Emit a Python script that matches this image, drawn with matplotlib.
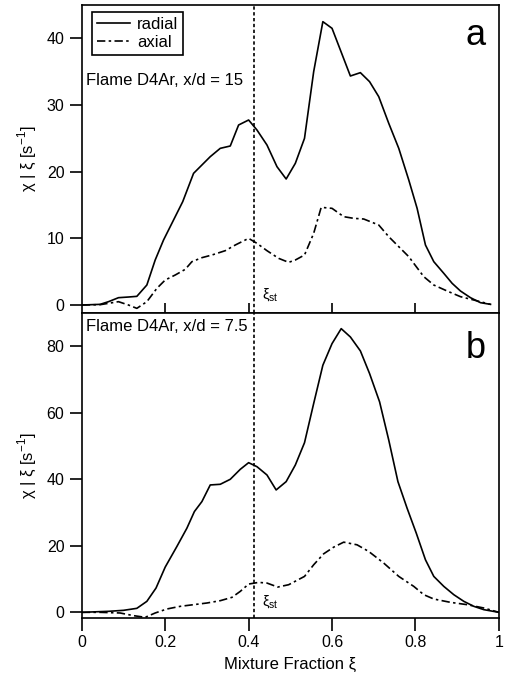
import matplotlib.pyplot as plt

plt.rcParams['font.family'] = ['Liberation Sans', 'DejaVu Sans']
plt.rcParams['mathtext.fontset'] = 'custom'
plt.rcParams['mathtext.rm'] = 'Liberation Sans'

# panel a: x/d = 15
xa_rad = [0, 0.044, 0.064, 0.088, 0.112, 0.132, 0.156, 0.176, 0.196, 0.22, 0.242,
          0.268, 0.284, 0.308, 0.332, 0.356, 0.376, 0.40, 0.42, 0.444, 0.468, 0.49,
          0.512, 0.534, 0.556, 0.578, 0.60, 0.62, 0.644, 0.668, 0.69, 0.712, 0.736,
          0.76, 0.784, 0.804, 0.824, 0.844, 0.868, 0.888, 0.908, 0.932, 0.956, 0.98]
ya_rad = [0, 0.1, 0.5, 1.1, 1.2, 1.3, 3.0, 6.75, 9.75, 12.75, 15.5,
          19.75, 20.75, 22.25, 23.5, 23.85, 27.0, 27.75, 26.25, 24.0, 20.75, 18.9,
          21.25, 25.0, 35.0, 42.5, 41.5, 38.25, 34.35, 34.85, 33.5, 31.25, 27.25,
          23.5, 18.75, 14.5, 9.0, 6.5, 4.75, 3.25, 2.1, 1.1, 0.35, 0.1]
xa_ax = [0, 0.044, 0.088, 0.112, 0.132, 0.156, 0.18, 0.20, 0.224, 0.248, 0.264,
         0.288, 0.312, 0.344, 0.368, 0.40, 0.42, 0.444, 0.472, 0.496, 0.512, 0.534,
         0.556, 0.574, 0.60, 0.628, 0.652, 0.676, 0.712, 0.736, 0.76, 0.784, 0.82,
         0.844, 0.876, 0.908, 0.94, 0.98]
ya_ax = [0, 0.05, 0.5, 0.0, -0.5, 0.5, 2.5, 3.75, 4.5, 5.35, 6.5,
         7.1, 7.5, 8.15, 9.0, 10.0, 9.25, 8.15, 7.0, 6.4, 6.75, 7.5,
         10.75, 14.65, 14.5, 13.25, 13.0, 12.9, 12.0, 10.25, 8.75, 7.25, 4.25,
         3.0, 2.1, 1.25, 0.75, 0.1]

# panel b: x/d = 7.5
xb_rad = [0, 0.064, 0.1, 0.132, 0.156, 0.178, 0.20, 0.228, 0.252, 0.27, 0.288,
          0.308, 0.332, 0.356, 0.38, 0.40, 0.42, 0.444, 0.466, 0.49, 0.512, 0.534,
          0.556, 0.578, 0.60, 0.622, 0.644, 0.668, 0.69, 0.714, 0.736, 0.758, 0.78,
          0.802, 0.824, 0.844, 0.868, 0.892, 0.916, 0.94, 0.964, 1.0]
yb_rad = [0, 0.3, 0.6, 1.2, 3.3, 7.3, 13.6, 19.8, 25.3, 30.3, 33.3,
          38.3, 38.5, 40.0, 43.0, 45.0, 43.8, 41.3, 36.8, 39.3, 44.3, 51.0,
          62.8, 74.3, 80.8, 85.3, 82.8, 78.6, 71.8, 63.3, 51.8, 39.3, 31.3,
          23.8, 15.8, 10.8, 7.8, 5.3, 3.3, 1.8, 0.8, 0]
xb_ax = [0, 0.044, 0.092, 0.124, 0.152, 0.176, 0.204, 0.236, 0.268, 0.30, 0.332,
         0.36, 0.38, 0.40, 0.424, 0.444, 0.47, 0.496, 0.534, 0.556, 0.58, 0.604,
         0.628, 0.66, 0.688, 0.724, 0.76, 0.796, 0.82, 0.844, 0.884, 0.924, 0.964, 1.0]
yb_ax = [0, 0, -0.2, -1.0, -1.5, -0.2, 1.0, 1.8, 2.3, 2.8, 3.5,
         4.5, 6.3, 8.5, 9.0, 8.8, 7.6, 8.3, 10.8, 14.3, 17.6, 19.6,
         21.1, 20.3, 18.3, 14.8, 10.8, 7.8, 5.3, 4.0, 3.0, 2.3, 1.3, 0]

xi_st = 0.412
dashdot = (0, (5, 2, 1.5, 2))
fs = 12

fig = plt.figure(figsize=(5.08, 6.83), dpi=100)
ax1 = fig.add_axes([0.161, 0.5417, 0.821, 0.451])
ax2 = fig.add_axes([0.161, 0.0952, 0.821, 0.4465])

for ax in (ax1, ax2):
    ax.set_xlim(0, 1)
    ax.axvline(xi_st, color='black', lw=1.2, ls=(0, (2, 1.5)))
    for s in ax.spines.values():
        s.set_linewidth(1.2)
    ax.tick_params(axis='y', direction='out', length=9, width=1.2, labelsize=11.5)
    ax.set_ylabel('χ | ξ [s$^{-1}$]', fontsize=fs)
    ax.yaxis.set_label_coords(-0.105, 0.5)

ax1.plot(xa_rad, ya_rad, color='black', lw=1.2, label='radial')
ax1.plot(xa_ax, ya_ax, color='black', lw=1.2, ls=dashdot, label='axial')
ax1.set_ylim(-1.2, 45)
ax1.set_yticks([0, 10, 20, 30, 40])
ax1.set_xticks([0.2, 0.4, 0.6, 0.8])
ax1.tick_params(axis='x', direction='inout', length=14, width=1.2, labelbottom=False)
leg = ax1.legend(loc='upper left', bbox_to_anchor=(0.024, 0.977), fontsize=fs,
                 fancybox=False, edgecolor='black', framealpha=1,
                 handlelength=2.0, handletextpad=0.4, borderpad=0.3, labelspacing=0.15,
                 borderaxespad=0)
leg.get_frame().set_linewidth(1.2)
ax1.text(0.01, 0.755, 'Flame D4Ar, x/d = 15', transform=ax1.transAxes,
         fontsize=fs, va='center')
ax1.text(0.945, 0.9, 'a', transform=ax1.transAxes, fontsize=26, ha='center', va='center')
ax1.text(xi_st + 0.02, 1.5, 'ξ$_{\\rm st}$', fontsize=10.5, va='center')

ax2.plot(xb_rad, yb_rad, color='black', lw=1.2)
ax2.plot(xb_ax, yb_ax, color='black', lw=1.2, ls=dashdot)
ax2.set_ylim(-1.7, 90)
ax2.set_yticks([0, 20, 40, 60, 80])
ax2.set_xticks([0, 0.2, 0.4, 0.6, 0.8, 1])
ax2.set_xticklabels(['0', '0.2', '0.4', '0.6', '0.8', '1'])
ax2.tick_params(axis='x', direction='out', length=9, width=1.2, labelsize=11.5, top=False)
ax2.text(0.01, 0.955, 'Flame D4Ar, x/d = 7.5', transform=ax2.transAxes,
         fontsize=fs, va='center')
ax2.text(0.945, 0.885, 'b', transform=ax2.transAxes, fontsize=26, ha='center', va='center')
ax2.text(xi_st + 0.02, 3.0, 'ξ$_{\\rm st}$', fontsize=10.5, va='center')
ax2.set_xlabel('Mixture Fraction ξ', fontsize=fs, labelpad=5)

fig.savefig('out.png', dpi=100)
